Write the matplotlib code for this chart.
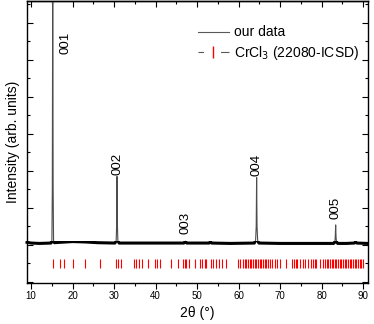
import matplotlib
matplotlib.use("Agg")
import matplotlib.pyplot as plt
from matplotlib.lines import Line2D
from matplotlib.patches import Rectangle
from matplotlib.ticker import MultipleLocator

plt.rcParams['font.family'] = ['Liberation Sans', 'DejaVu Sans']

# measured XRD pattern (2theta in degrees, intensity in arb. units)
two_theta = [9.0, 10.0, 12.0, 14.8, 15.0, 15.1, 15.2, 15.3, 15.4, 15.6,
             17.0, 20.0, 23.0, 26.0, 30.2, 30.5, 30.6, 30.7, 30.8, 30.9, 31.2,
             34.0, 40.0, 46.8, 47.15, 47.5, 50.0, 52.9, 53.2, 53.5, 58.0,
             63.8, 64.1, 64.25, 64.35, 64.45, 64.6, 64.9, 70.0, 80.0,
             82.9, 83.2, 83.3, 83.4, 83.5, 83.6, 83.9, 86.0, 87.9, 88.2, 88.5, 91.0]
intensity = [0.07, 0.05, 0.04, 0.05, 0.12, 1.5, 7.5, 1.5, 0.12, 0.06,
             0.07, 0.09, 0.08, 0.06, 0.05, 0.12, 0.5, 1.85, 0.5, 0.12, 0.05,
             0.05, 0.05, 0.05, 0.10, 0.05, 0.05, 0.05, 0.09, 0.05, 0.04,
             0.05, 0.12, 0.5, 1.82, 0.5, 0.12, 0.05, 0.04, 0.04,
             0.04, 0.08, 0.2, 0.54, 0.2, 0.08, 0.04, 0.04, 0.05, 0.08, 0.05, 0.04]

# reference reflections CrCl3 (22080-ICSD)
ref_positions = [15.2, 17.07, 17.87, 20.05, 23.1, 26.6, 30.34, 30.98, 31.7,
                 34.76, 35.3, 36.1, 36.8, 38.1, 39.8, 40.4, 40.95, 43.6, 45.4,
                 46.6, 47.0, 47.4, 48.0, 49.4, 50.6, 51.25, 51.8, 52.2, 53.4,
                 53.8, 54.6, 55.4, 56.1, 57.0, 59.8, 60.4, 61.05,
                 61.46, 61.86, 62.26, 62.67, 63.07, 63.47, 63.87, 64.27, 64.68,
                 65.08, 65.48, 65.88, 66.28, 66.69, 67.09, 67.49, 68.13, 68.7,
                 69.26, 69.9, 71.5, 72.96, 73.36, 73.76, 74.17, 74.73, 75.53,
                 76.1, 76.74, 77.54, 77.95, 78.35, 78.75, 79.55,
                 80.4, 80.8, 81.2, 81.6, 82.0, 82.4, 82.8, 83.2, 83.6, 84.0,
                 84.4, 84.8, 85.2, 85.6, 86.0, 86.4, 86.8, 87.2, 87.6, 88.0,
                 88.4, 88.8, 89.2, 89.6, 90.0]
ref_level = -0.5

# peak labels
peak_labels = ['001', '002', '003', '004', '005']
label_x = [18.4, 30.7, 47.2, 64.4, 83.4]
label_y = [5.47, 2.2, 0.59, 2.17, 1.01]

fig = plt.figure(figsize=(3.74, 3.24), dpi=100)
ax = fig.add_axes([0.0722, 0.1265, 0.9118, 0.869])

# thin grey trace for the full pattern
ax.plot(two_theta, intensity, color='0.3', lw=0.8)
# noisy background appears as a thick dark band: same data, clipped to the base
base, = ax.plot(two_theta, intensity, color='black', lw=2.2)
clip_box = Rectangle((8, -1.1), 90, 1.2, transform=ax.transData, visible=False)
ax.add_patch(clip_box)
base.set_clip_path(clip_box)

ax.vlines(ref_positions, ref_level - 0.12, ref_level + 0.12, colors='red', lw=0.8)

for t, x, y in zip(peak_labels, label_x, label_y):
    ax.text(x, y, t, rotation=90, ha='center', va='center', fontsize=9.5)

ax.set_xlim(9.0, 91.2)
ax.set_ylim(-1.03, 6.58)
ax.xaxis.set_major_locator(MultipleLocator(10))
ax.xaxis.set_minor_locator(MultipleLocator(5))
ax.yaxis.set_major_locator(MultipleLocator(1))
ax.yaxis.set_minor_locator(MultipleLocator(0.5))
ax.tick_params(axis='x', which='both', direction='out', bottom=True, top=False,
               labelsize=7, pad=1.5, width=0.8)
ax.tick_params(axis='x', which='major', length=4)
ax.tick_params(axis='x', which='minor', length=2.5)
ax.tick_params(axis='y', which='both', direction='in', left=True, right=True,
               labelleft=False, width=0.8)
ax.tick_params(axis='y', which='major', length=4)
ax.tick_params(axis='y', which='minor', length=2.5)
# top ticks inward
sec = ax.secondary_xaxis('top')
sec.xaxis.set_major_locator(MultipleLocator(10))
sec.xaxis.set_minor_locator(MultipleLocator(5))
sec.tick_params(axis='x', which='both', direction='in', labeltop=False, width=0.8)
sec.tick_params(axis='x', which='major', length=4)
sec.tick_params(axis='x', which='minor', length=2.5)
sec.spines['top'].set_linewidth(1.0)

for s in ax.spines.values():
    s.set_linewidth(1.0)

ax.set_xlabel('2θ (°)', fontsize=10, labelpad=4)
ax.set_ylabel('Intensity (arb. units)', fontsize=10, labelpad=5)

h1 = Line2D([], [], color='0.35', lw=0.8)
h2 = Line2D([], [], color='0.35', lw=0.8, ls=(0, (5, 15.3, 8.1, 50)), marker='|',
            mec='red', mew=1.0, ms=9)
ax.legend([h1, h2], ['our data', 'CrCl$_3$ (22080-ICSD)'], loc='upper left',
          bbox_to_anchor=(0.50, 0.915), frameon=False, fontsize=10,
          borderpad=0, borderaxespad=0, handlelength=2.3, handletextpad=0.35,
          labelspacing=0.35)

fig.savefig('out.png', dpi=100)
